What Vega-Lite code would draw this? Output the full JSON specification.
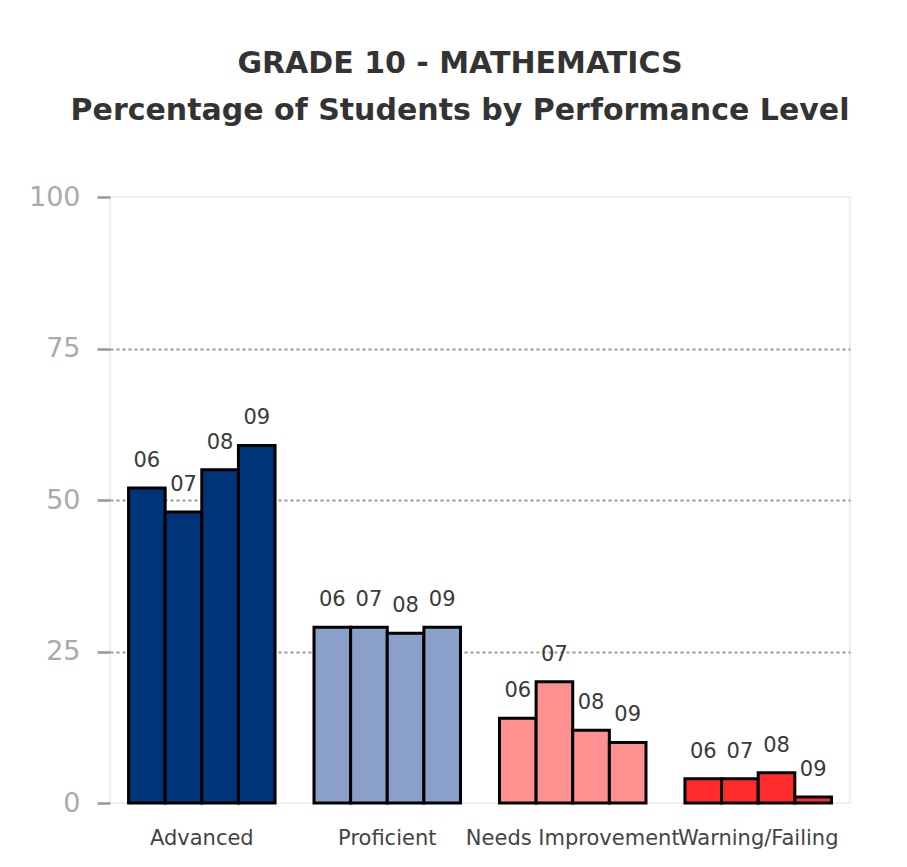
{
  "$schema": "https://vega.github.io/schema/vega-lite/v6.json",
  "width": 740,
  "height": 606,
  "autosize": {"type": "none"},
  "padding": {"left": 110, "top": 197, "right": 57, "bottom": 64},
  "background": "white",
  "title": {
    "text": ["GRADE 10 - MATHEMATICS", "Percentage of Students by Performance Level"],
    "font": "DejaVu Sans",
    "fontWeight": "bold",
    "fontSize": 30,
    "color": "#333333",
    "lineHeight": 47,
    "anchor": "middle",
    "dx": -20,
    "offset": 57
  },
  "data": {
    "values": [
      {"level": "Advanced", "year": "06", "value": 52},
      {"level": "Advanced", "year": "07", "value": 48},
      {"level": "Advanced", "year": "08", "value": 55},
      {"level": "Advanced", "year": "09", "value": 59},
      {"level": "Proficient", "year": "06", "value": 29},
      {"level": "Proficient", "year": "07", "value": 29},
      {"level": "Proficient", "year": "08", "value": 28},
      {"level": "Proficient", "year": "09", "value": 29},
      {"level": "Needs Improvement", "year": "06", "value": 14},
      {"level": "Needs Improvement", "year": "07", "value": 20},
      {"level": "Needs Improvement", "year": "08", "value": 12},
      {"level": "Needs Improvement", "year": "09", "value": 10},
      {"level": "Warning/Failing", "year": "06", "value": 4},
      {"level": "Warning/Failing", "year": "07", "value": 4},
      {"level": "Warning/Failing", "year": "08", "value": 5},
      {"level": "Warning/Failing", "year": "09", "value": 1}
    ]
  },
  "encoding": {
    "x": {
      "field": "level",
      "type": "nominal",
      "sort": ["Advanced", "Proficient", "Needs Improvement", "Warning/Failing"],
      "scale": {"paddingInner": 0.21, "paddingOuter": 0.1},
      "axis": {
        "title": null,
        "labelAngle": 0,
        "ticks": false,
        "domain": false,
        "labelFont": "DejaVu Sans",
        "labelFontSize": 21,
        "labelColor": "#444444",
        "labelPadding": 24,
        "labelLimit": 0,
        "labelOverlap": false
      }
    },
    "xOffset": {"field": "year", "type": "nominal", "scale": {"paddingInner": 0, "paddingOuter": 0}},
    "y": {
      "field": "value",
      "type": "quantitative",
      "scale": {"domain": [0, 100], "nice": false},
      "axis": {
        "title": null,
        "values": [0, 25, 50, 75, 100],
        "domain": false,
        "tickColor": "#999999",
        "tickSize": 13,
        "tickWidth": 2.5,
        "labelFont": "DejaVu Sans",
        "labelFontSize": 27,
        "labelColor": "#aaaaaa",
        "labelPadding": 17,
        "gridColor": "#999999",
        "gridDash": [3, 3],
        "gridWidth": 2,
        "gridOpacity": {"condition": {"test": "datum.value == 0 || datum.value == 100", "value": 0}, "value": 1}
      }
    }
  },
  "layer": [
    {
      "mark": {"type": "bar", "stroke": "black", "strokeWidth": 3},
      "encoding": {
        "color": {
          "field": "level",
          "type": "nominal",
          "scale": {
            "domain": ["Advanced", "Proficient", "Needs Improvement", "Warning/Failing"],
            "range": ["#003478", "#8aa0c8", "#ff9090", "#ff2b2b"]
          },
          "legend": null
        }
      }
    },
    {
      "mark": {"type": "text", "baseline": "alphabetic", "dy": -21, "font": "DejaVu Sans", "fontSize": 21, "color": "#3a3a3a"},
      "encoding": {"text": {"field": "year"}}
    }
  ],
  "config": {
    "view": {"stroke": "#eeeeee", "strokeWidth": 2}
  }
}
